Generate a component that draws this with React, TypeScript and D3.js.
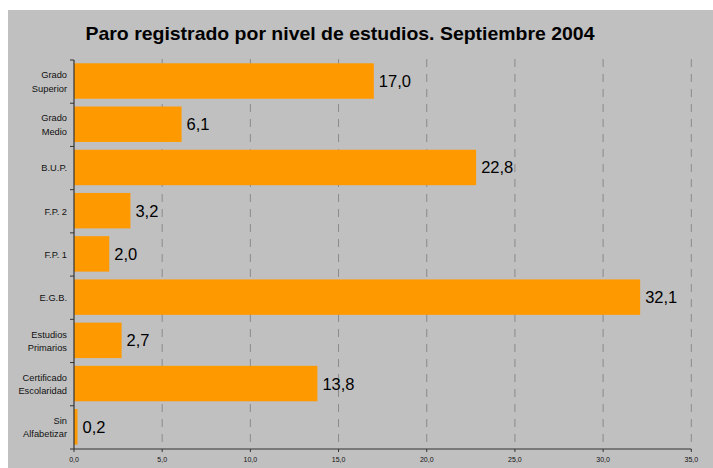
import React from "react";
import * as d3 from "d3";

const categories: string[][] = [
  ["Grado", "Superior"],
  ["Grado", "Medio"],
  ["B.U.P."],
  ["F.P. 2"],
  ["F.P. 1"],
  ["E.G.B."],
  ["Estudios", "Primarios"],
  ["Certificado", "Escolaridad"],
  ["Sin", "Alfabetizar"],
];
const values: number[] = [17.0, 6.1, 22.8, 3.2, 2.0, 32.1, 2.7, 13.8, 0.2];
const xTicks: number[] = [0, 5, 10, 15, 20, 25, 30, 35];
const title = "Paro registrado por nivel de estudios. Septiembre 2004";

const W = 713;
const H = 468;
const left = 74;
const right = 691.3;
const top = 60;
const bottom = 449;

const fmt = (v: number) => v.toFixed(1).replace(".", ",");

export default function App() {
  const x = d3.scaleLinear().domain([0, 35]).range([left, right]);
  const idx = categories.map((_, i) => String(i));
  const y = d3.scaleBand().domain(idx).range([top, bottom]).padding(0);
  const bw = y.bandwidth();
  const barH = bw * 0.82;
  const font = "'Liberation Sans', Arial, sans-serif";

  return (
    <svg
      width={W}
      height={H}
      style={{ position: "absolute", left: 0, top: 0, display: "block" }}
    >
      <rect x={0} y={0} width={W} height={H} fill="#ffffff" />
      <rect x={8} y={10} width={W - 8} height={H - 10} fill="#c0c0c0" />
      <text
        x={340}
        y={40}
        textAnchor="middle"
        fontFamily={font}
        fontWeight="bold"
        fontSize={19}
        textLength={509}
        lengthAdjust="spacingAndGlyphs"
        fill="#000"
      >
        {title}
      </text>
      {/* grid */}
      {xTicks
        .filter((t) => t > 0)
        .map((t) => (
          <line
            key={"g" + t}
            x1={x(t)}
            x2={x(t)}
            y1={top - 1}
            y2={bottom}
            stroke="#8a8a8a"
            strokeWidth={1}
            strokeDasharray="8,7"
          />
        ))}
      {/* bars */}
      {values.map((v, i) => {
        const y0 = (y(String(i)) as number) + (bw - barH) / 2 - 0.6;
        return (
          <g key={"b" + i}>
            <rect
              x={x(0)}
              y={y0}
              width={x(v) - x(0)}
              height={barH}
              fill="#ff9900"
            />
            <text
              x={x(v) + 5}
              y={y0 + barH / 2}
              dy="0.36em"
              fontFamily={font}
              fontSize={16.5}
              fill="#000"
            >
              {fmt(v)}
            </text>
          </g>
        );
      })}
      {/* y axis */}
      <line x1={left} x2={left} y1={top} y2={bottom} stroke="#333" strokeWidth={1.2} />
      {d3.range(categories.length + 1).map((i) => {
        const yy = top + i * bw;
        return (
          <line key={"yt" + i} x1={left - 4} x2={left} y1={yy} y2={yy} stroke="#333" strokeWidth={1} />
        );
      })}
      {categories.map((lines, i) => {
        const cy = (y(String(i)) as number) + bw / 2;
        const n = lines.length;
        return (
          <text
            key={"yl" + i}
            textAnchor="end"
            fontFamily={font}
            fontSize={9.3}
            fill="#111"
          >
            {lines.map((l, j) => (
              <tspan key={j} x={67} y={cy + (j - (n - 1) / 2) * 13.3} dy="0.35em">
                {l}
              </tspan>
            ))}
          </text>
        );
      })}
      {/* x axis */}
      <line x1={left} x2={right} y1={bottom} y2={bottom} stroke="#333" strokeWidth={1.2} />
      {xTicks.map((t) => (
        <g key={"xt" + t}>
          <line x1={x(t)} x2={x(t)} y1={bottom} y2={bottom + 3} stroke="#333" strokeWidth={1} />
          <text
            x={x(t)}
            y={bottom + 11}
            dy="0.35em"
            textAnchor="middle"
            fontFamily={font}
            fontSize={7}
            fill="#111"
          >
            {fmt(t)}
          </text>
        </g>
      ))}
    </svg>
  );
}
